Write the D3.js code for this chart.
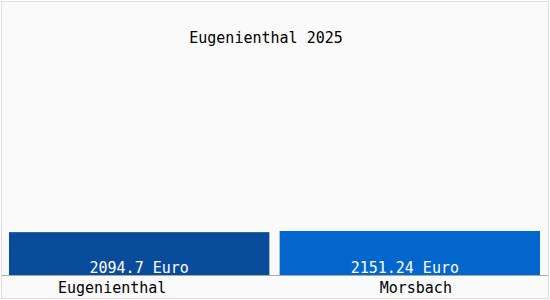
<!DOCTYPE html>
<html>
<head>
<meta charset="utf-8">
<script src="https://cdn.jsdelivr.net/npm/d3@7"></script>
<style>
  body { margin: 0; background: #fff; }
  svg { display: block; }
</style>
</head>
<body>
<div id="chart"></div>
<script>
const title = "Eugenienthal 2025";
const categories = ["Eugenienthal", "Morsbach"];
const values = [2094.7, 2151.24];
const valueLabels = ["2094.7 Euro", "2151.24 Euro"];
const colors = ["#084c9b", "#0366cc"];

const width = 550, height = 300;
const font = "'DejaVu Sans Mono', monospace";

const svg = d3.select("#chart").append("svg")
    .attr("width", width)
    .attr("height", height)
    .style("font-family", font)
    .style("font-size", "15px");

// fondo y borde
svg.append("rect")
    .attr("x", 1.5).attr("y", 1.5)
    .attr("width", width - 3).attr("height", height - 3)
    .attr("fill", "#fafafa")
    .attr("stroke", "#dedede");

const x = d3.scaleBand()
    .domain(categories)
    .range([9, 540])
    .paddingInner(0.038)
    .paddingOuter(0);

const y = d3.scaleLinear()
    .domain([0, 11000])
    .range([275, 50]);

svg.append("text")
    .attr("x", 266)
    .attr("y", 43)
    .attr("text-anchor", "middle")
    .attr("fill", "#000")
    .text(title);

// barras
svg.append("g")
    .selectAll("rect")
    .data(values)
    .join("rect")
    .attr("x", (d, i) => x(categories[i]))
    .attr("y", d => y(d))
    .attr("width", x.bandwidth())
    .attr("height", d => y(0) - y(d))
    .attr("fill", (d, i) => colors[i]);

// eje
svg.append("line")
    .attr("x1", 2).attr("x2", width - 2)
    .attr("y1", 275.5).attr("y2", 275.5)
    .attr("stroke", "#aaa");

const valueShift = [0, -5];
svg.append("g")
    .selectAll("text")
    .data(valueLabels)
    .join("text")
    .attr("x", (d, i) => x(categories[i]) + x.bandwidth() / 2 + valueShift[i])
    .attr("y", 273)
    .attr("text-anchor", "middle")
    .attr("fill", "#fff")
    .text(d => d);

const labelShift = [-27, 6];
svg.append("g")
    .selectAll("text")
    .data(categories)
    .join("text")
    .attr("x", (d, i) => x(d) + x.bandwidth() / 2 + labelShift[i])
    .attr("y", 293)
    .attr("text-anchor", "middle")
    .attr("fill", "#000")
    .text(d => d);
</script>
</body>
</html>
